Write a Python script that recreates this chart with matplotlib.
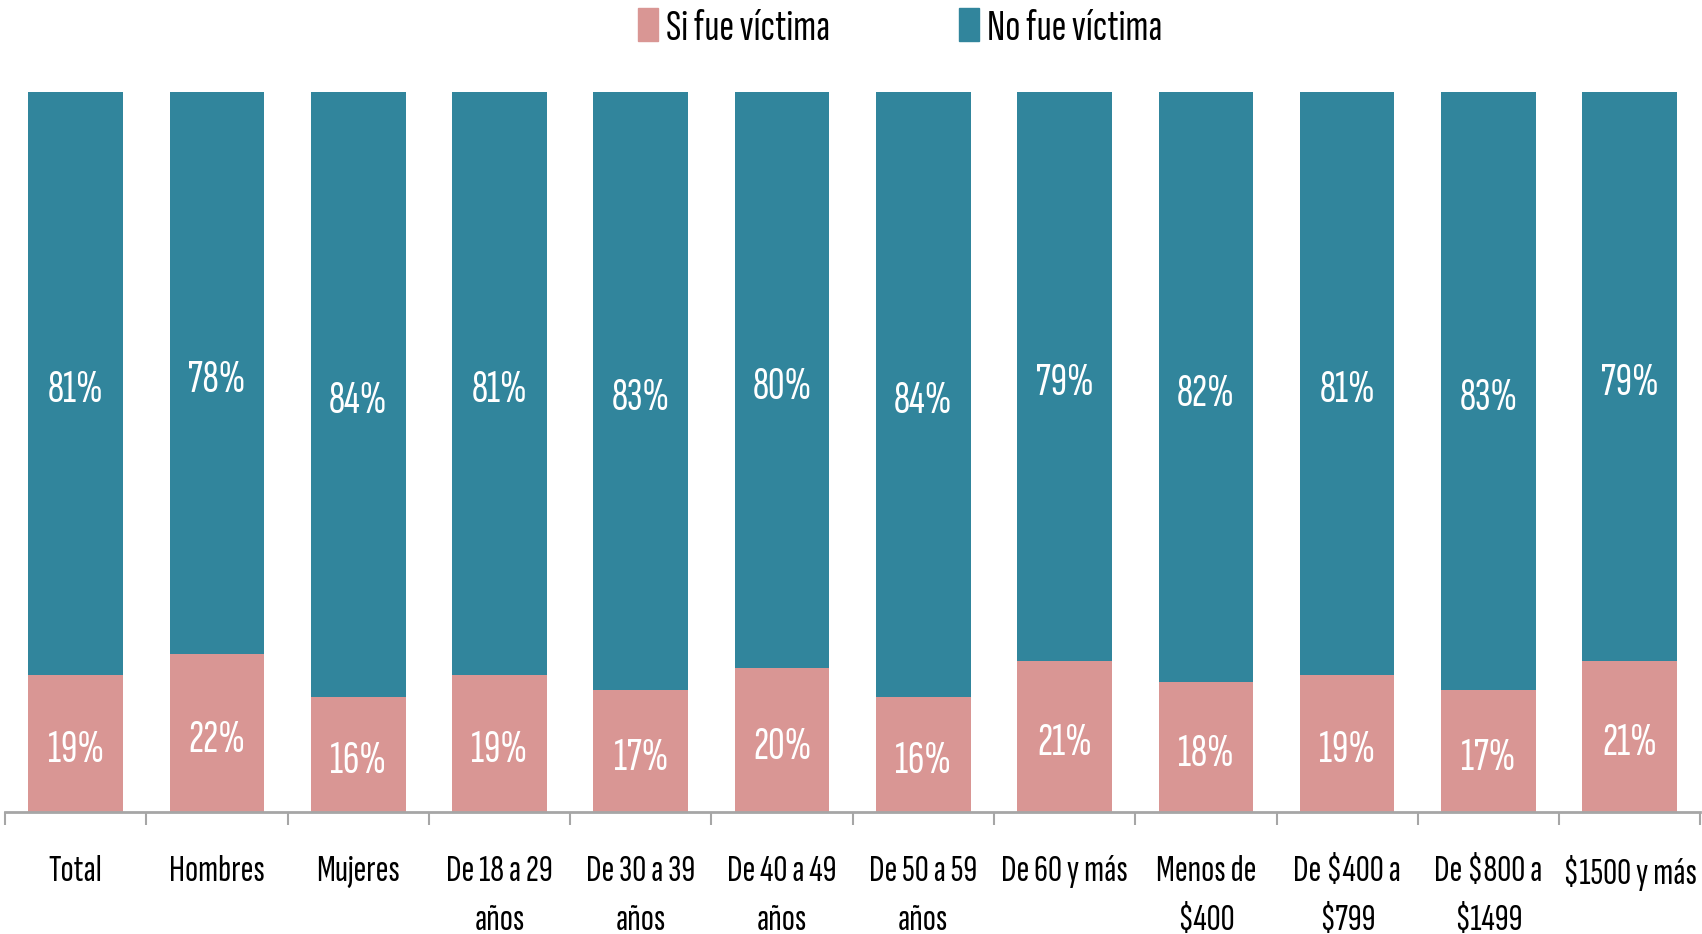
import numpy as np
import matplotlib
matplotlib.use("Agg")
import matplotlib.pyplot as plt
from matplotlib.patches import Patch

plt.rcParams["font.family"] = ["Sofia Sans Extra Condensed", "DejaVu Sans"]

# --- data ---
categories = ["Total", "Hombres", "Mujeres", "De 18 a 29\naños", "De 30 a 39\naños",
              "De 40 a 49\naños", "De 50 a 59\naños", "De 60 y más", "Menos de\n\\$400",
              "De \\$400 a\n\\$799", "De \\$800 a\n\\$1499", "\\$1500 y más"]
si_victima = [19, 22, 16, 19, 17, 20, 16, 21, 18, 19, 17, 21]
no_victima = [81, 78, 84, 81, 83, 80, 84, 79, 82, 81, 83, 79]

PINK = "#D99694"
TEAL = "#31859C"
AXIS_GREY = "#A6A6A6"

fig = plt.figure(figsize=(17.02, 9.34), dpi=100)
ax = fig.add_axes([0.003, 0.1306, 0.996, 0.7709])

x = np.arange(len(categories))
width = 0.67
ax.bar(x, si_victima, width, color=PINK, zorder=2)
ax.bar(x, no_victima, width, bottom=si_victima, color=TEAL, zorder=2)

# labels sit a touch below the segment centre, like the original
for xi, s, n in zip(x, si_victima, no_victima):
    ax.text(xi, s / 2 - 1, f"{s}%", ha="center", va="center", color="white", fontsize=33)
    ax.text(xi, s + n / 2 - 1, f"{n}%", ha="center", va="center", color="white", fontsize=33)

ax.set_xlim(-0.5, len(categories) - 0.5)
ax.set_ylim(0, 100)
ax.set_yticks([])
for side in ["left", "right", "top"]:
    ax.spines[side].set_visible(False)
ax.spines["bottom"].set_color(AXIS_GREY)
ax.spines["bottom"].set_linewidth(2)

ax.set_xticks(x)
ax.set_xticklabels(categories, fontsize=28, linespacing=1.6)
ax.tick_params(axis="x", which="major", length=0, pad=31)
ax.set_xticks(np.arange(len(categories) + 1) - 0.5, minor=True)
ax.tick_params(axis="x", which="minor", length=9.5, width=1.5, color=AXIS_GREY)

handles = [Patch(color=PINK, label="Si fue víctima"), Patch(color=TEAL, label="No fue víctima")]
fig.legend(handles=handles, loc="center", bbox_to_anchor=(0.529, 0.97), ncol=2,
           frameon=False, fontsize=32, handlelength=0.45, handleheight=0.77,
           handletextpad=0.18, columnspacing=2.9)

fig.savefig("out.png", dpi=100)
